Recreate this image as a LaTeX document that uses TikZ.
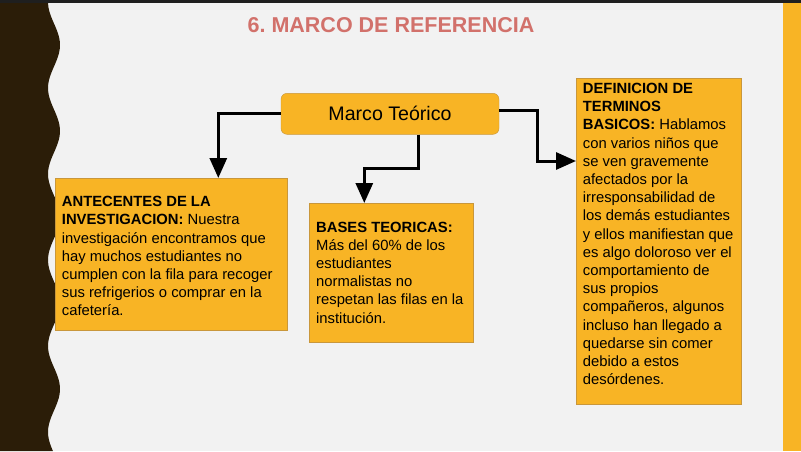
\documentclass[tikz,border=0pt]{standalone}
\usepackage{fontspec}
\setmainfont{Liberation Sans}
\usetikzlibrary{arrows.meta}
\definecolor{fondo}{HTML}{F2F2F2}
\definecolor{naranja}{HTML}{F8B425}
\definecolor{borde}{HTML}{C9973B}
\definecolor{cafe}{HTML}{2B1D08}
\definecolor{rojizo}{HTML}{D2716B}
\frenchspacing

\begin{document}
\begin{tikzpicture}[x=1pt,y=-1pt,
   caja/.style={draw=borde, line width=0.8pt, fill=naranja, anchor=north west,
                inner xsep=6.5pt, inner ysep=0pt, font=\fontsize{14.8}{18.2}\selectfont},
   flecha/.style={line width=3pt, -{Triangle[length=20pt,width=17pt]}}]

\useasboundingbox (0,0) rectangle (801,451);
\fill[fondo] (0,0) rectangle (801,451);
\fill[naranja] (783,0) rectangle (801,451);
\fill[cafe] (0,0) -- plot[domain=0:451, samples=120, variable=\t] ({54+6*cos(4.186*(\t-45))},\t) -- (0,451) -- cycle;
\fill[black!88] (0,0) rectangle (801,2.5);

\node[text=rojizo, font=\bfseries\fontsize{21.5}{24}\selectfont] (titulo) at (391,25.5) {6. MARCO DE REFERENCIA};

\node[draw=borde, fill=naranja, rounded corners=6pt, minimum width=218pt, minimum height=41pt,
      font=\fontsize{19.6}{22}\selectfont] (marco) at (390,113.8) {Marco Teórico};

\node[caja] (antecedentes) at (55,178) {\parbox[c][152pt][t]{219pt}{\raggedright\vspace*{18pt}%
   \textbf{ANTECENTES DE LA}\\
   \textbf{INVESTIGACION:} Nuestra\\
   investigación encontramos que\\
   hay muchos estudiantes no\\
   cumplen con la fila para recoger\\
   sus refrigerios o comprar en la\\
   cafetería.}};

\node[caja] (bases) at (309.3,203) {\parbox[c][139pt][t]{151pt}{\raggedright\vspace*{18.4pt}%
   \textbf{BASES TEORICAS:}\\
   Más del 60\% de los\\
   estudiantes\\
   normalistas no\\
   respetan las filas en la\\
   institución.}};

\node[caja] (definicion) at (576,78.3) {\parbox[c][326pt][t]{152pt}{\raggedright\vspace*{4.4pt}%
   \textbf{DEFINICION DE}\\
   \textbf{TERMINOS}\\
   \textbf{BASICOS:} Hablamos\\
   con varios niños que\\
   se ven gravemente\\
   afectados por la\\
   irresponsabilidad de\\
   los demás estudiantes\\
   y ellos manifiestan que\\
   es algo doloroso ver el\\
   comportamiento de\\
   sus propios\\
   compañeros, algunos\\
   incluso han llegado a\\
   quedarse sin comer\\
   debido a estos\\
   desórdenes.}};

% conectores
\coordinate (codo2) at (364.3,168.3);
\coordinate (codo3) at (537.3,161);
\draw[flecha] (marco.west) -| ([xshift=163.3pt]antecedentes.north west);
\draw[flecha] ([xshift=28.3pt]marco.south) |- (codo2) -- (codo2 |- bases.north);
\draw[flecha] ([yshift=3.1pt]marco.east) -| (codo3) -- (codo3 -| definicion.west);

\end{tikzpicture}
\end{document}
